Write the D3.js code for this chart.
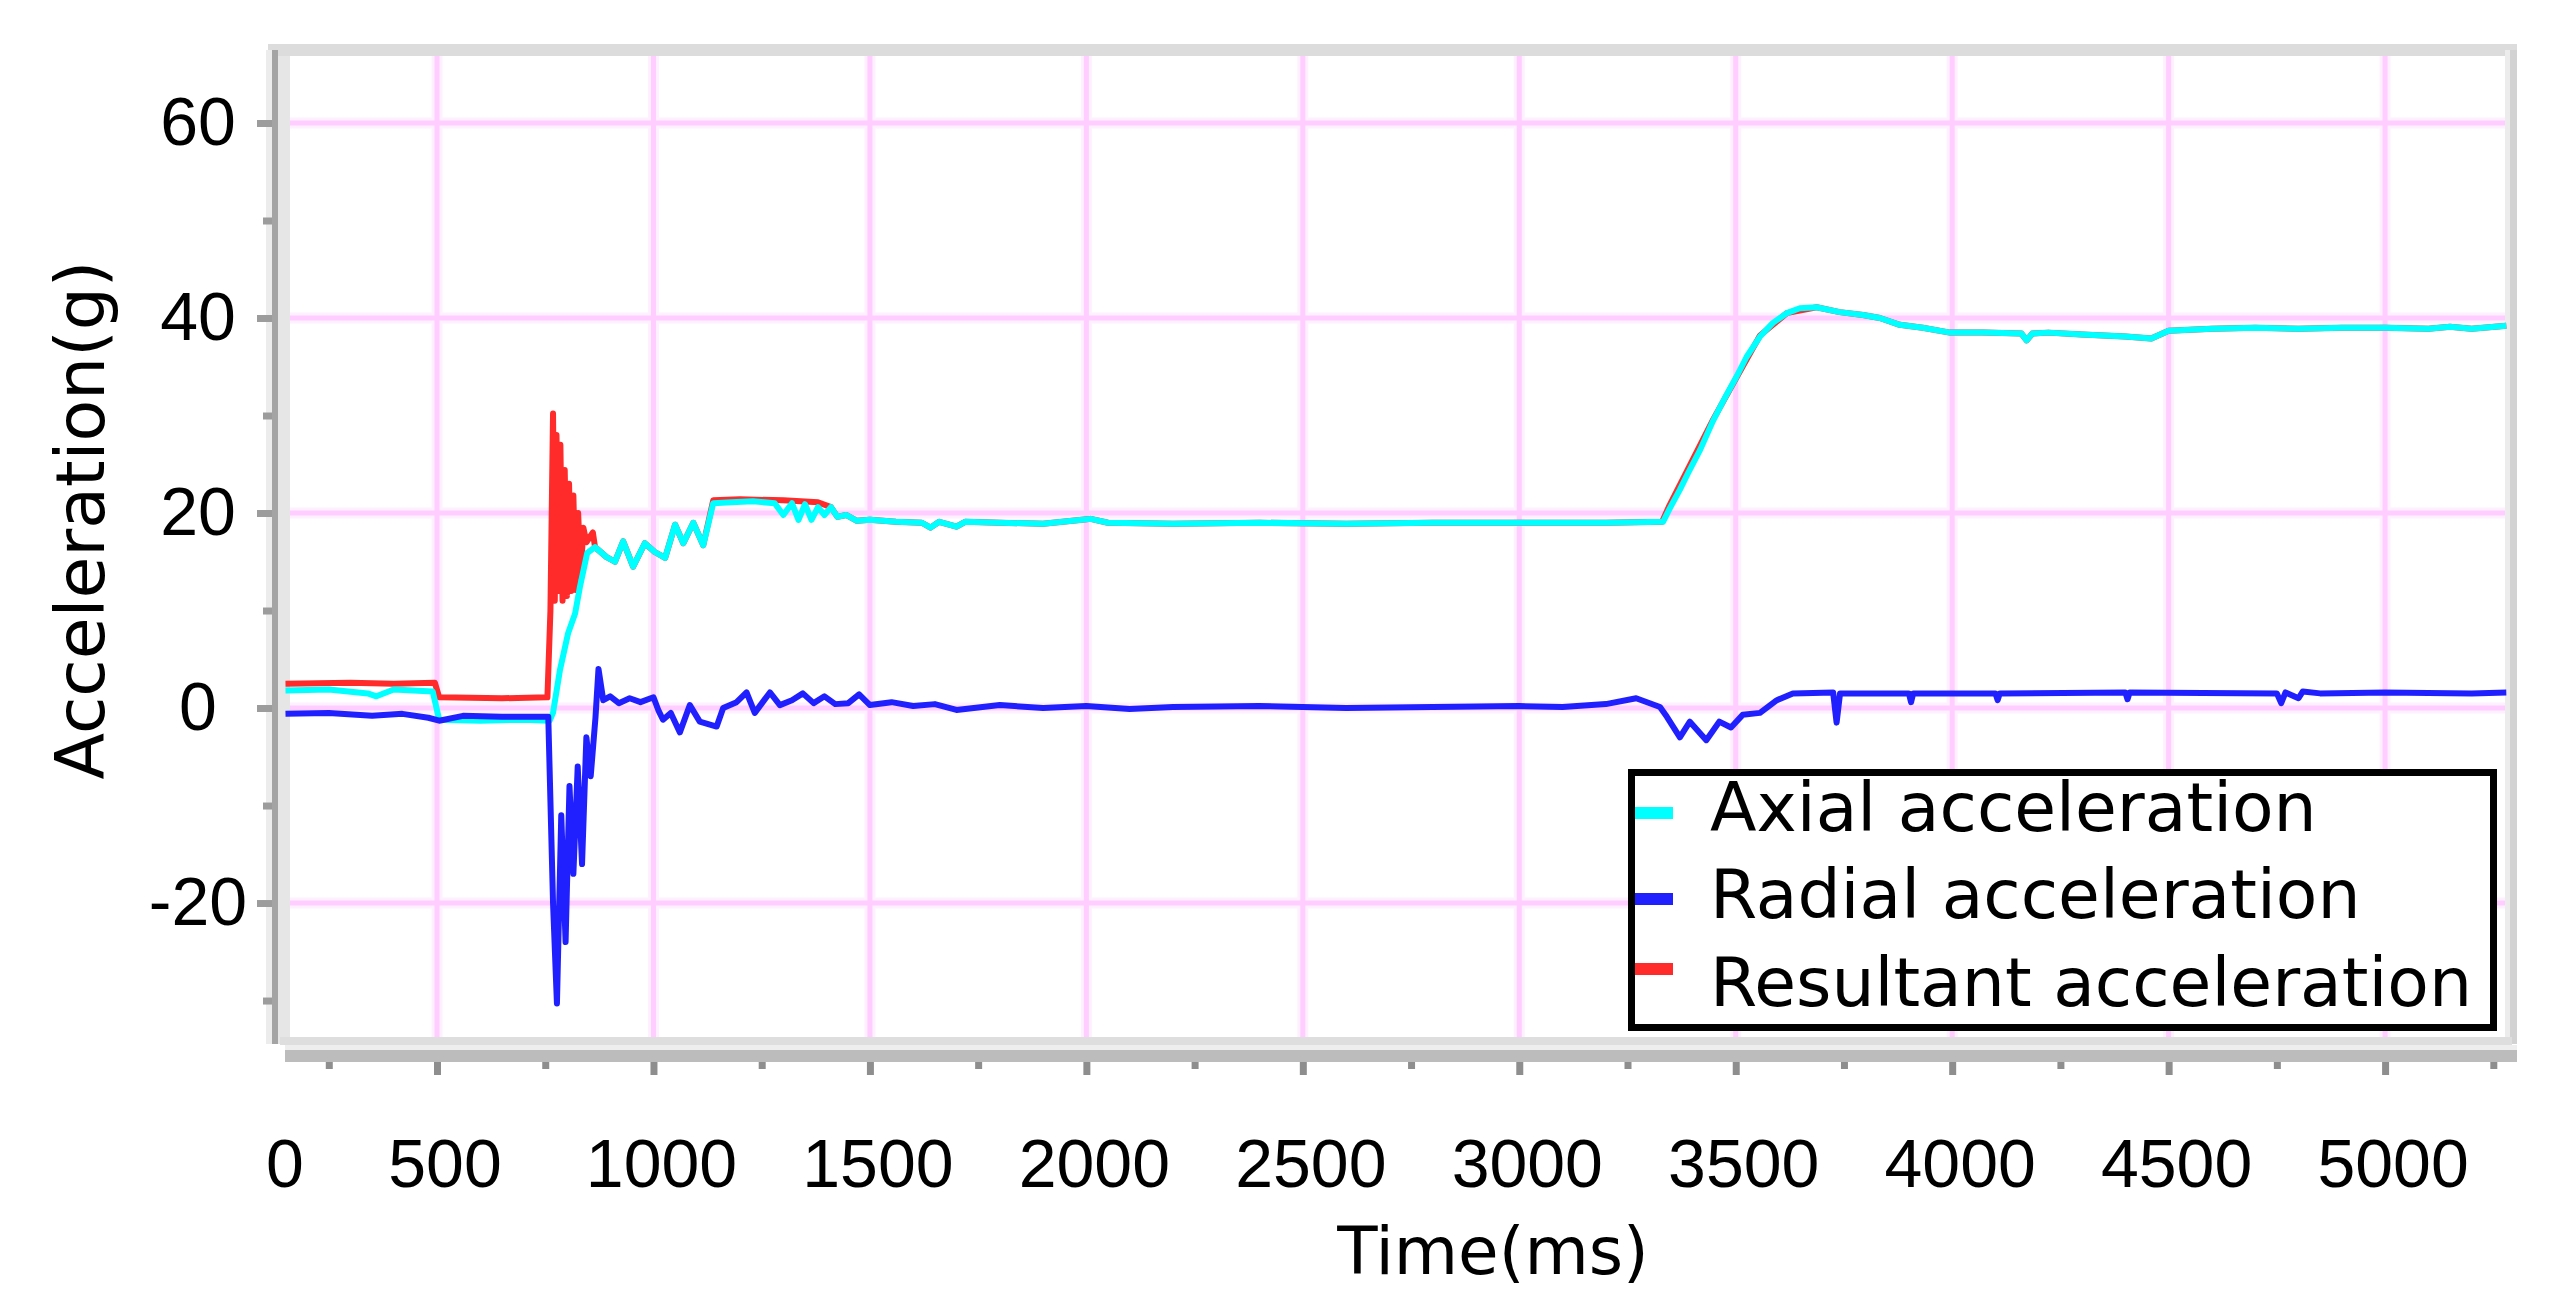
<!DOCTYPE html>
<html>
<head>
<meta charset="utf-8">
<script src="https://cdn.jsdelivr.net/npm/d3@7"></script>
<style>
body { margin: 0; background: #fff; }
</style>
</head>
<body>
<div id="chart"></div>
<script>
const width = 2575;
const height = 1314;

// [time ms, acceleration g]
const axial = [
    [150,1.8],[250,1.9],[340,1.5],[360,1.2],[400,1.9],[490,1.7],[505,-1.2],[600,-1.3],[700,-1.2],[760,-1.3],
    [768,-0.5],[784,3.9],[803,7.7],[819,9.7],[830,12.4],[847,15.9],[865,16.5],[891,15.5],[911,15.0],
    [930,17.1],[953,14.5],[980,16.9],[1003,16.0],[1027,15.4],[1050,18.8],[1069,16.9],[1092,19.0],
    [1115,16.7],[1138,21.0],[1180,21.1],[1230,21.2],[1280,21.0],[1300,19.8],[1320,21.0],[1335,19.3],
    [1350,20.9],[1365,19.3],[1380,20.6],[1395,19.8],[1410,20.6],[1425,19.6],[1445,19.8],[1470,19.2],
    [1500,19.3],[1560,19.1],[1620,19.0],[1640,18.5],[1660,19.1],[1700,18.6],[1720,19.1],[1800,19.0],
    [1900,18.9],[1990,19.3],[2010,19.4],[2050,19.0],[2200,18.9],[2400,19.0],[2600,18.9],[2800,19.0],
    [3000,19.0],[3200,19.0],[3332,19.1],[3348,20.5],[3371,22.4],[3390,24.1],[3418,26.5],[3448,29.5],
    [3475,31.8],[3502,34.0],[3525,36.0],[3556,38.1],[3586,39.5],[3618,40.5],[3648,41.0],[3687,41.1],
    [3740,40.6],[3794,40.3],[3833,40.0],[3879,39.3],[3932,39.0],[3995,38.5],[4071,38.5],[4160,38.4],
    [4172,37.7],[4185,38.4],[4222,38.5],[4300,38.3],[4400,38.1],[4460,37.9],[4500,38.7],[4600,38.9],
    [4700,39.0],[4800,38.9],[4900,39.0],[5000,39.0],[5100,38.9],[5150,39.1],[5200,38.9],[5280,39.2]
];

const radial = [
    [150,-0.6],[250,-0.5],[350,-0.8],[420,-0.6],[480,-1.0],[505,-1.3],[560,-0.8],[650,-0.9],[757,-0.9],
    [768,-20],[777,-30.3],[787,-11],[797,-24],[806,-8],[815,-17],[825,-6],[835,-16],[845,-3],[855,-7],
    [866,-1],[873,4.0],[884,0.8],[900,1.2],[920,0.5],[945,1.0],[970,0.6],[1000,1.1],[1012,-0.3],
    [1022,-1.2],[1040,-0.5],[1061,-2.5],[1084,0.3],[1107,-1.4],[1146,-1.9],[1161,0],[1192,0.6],
    [1215,1.6],[1234,-0.5],[1269,1.6],[1292,0.3],[1320,0.8],[1345,1.5],[1370,0.5],[1395,1.2],
    [1420,0.4],[1450,0.5],[1475,1.4],[1500,0.3],[1550,0.6],[1600,0.2],[1650,0.4],[1700,-0.2],
    [1800,0.3],[1900,0],[2000,0.2],[2100,-0.1],[2200,0.1],[2400,0.2],[2600,0],[2800,0.1],[3000,0.2],
    [3100,0.1],[3200,0.4],[3270,1.0],[3325,0.1],[3341,-0.9],[3371,-3.0],[3394,-1.4],[3432,-3.3],
    [3462,-1.4],[3489,-2.0],[3516,-0.7],[3556,-0.5],[3595,0.8],[3632,1.5],[3725,1.6],[3733,-1.5],
    [3741,1.5],[3900,1.5],[3905,0.6],[3910,1.5],[4100,1.5],[4105,0.8],[4110,1.5],[4400,1.6],
    [4405,0.9],[4410,1.6],[4750,1.5],[4760,0.5],[4770,1.6],[4800,1.0],[4810,1.7],[4850,1.5],
    [5000,1.6],[5200,1.5],[5280,1.6]
];

const resultant = [
    [150,2.5],[300,2.6],[400,2.5],[495,2.6],[505,1.1],[650,1.0],[755,1.1],[762,10],[768,30.2],
    [772,11],[776,28],[781,12],[785,27],[790,11],[795,24.4],[800,11.5],[805,23],[810,12],[815,21.8],
    [820,12.1],[826,20],[832,13.5],[838,18.5],[845,17.0],[860,18],[865,16.5],[891,15.5],[911,15.0],
    [930,17.1],[953,14.5],[980,16.9],[1003,16.0],[1027,15.4],[1050,18.8],[1069,16.9],[1092,19.0],
    [1115,16.7],[1138,21.3],[1200,21.4],[1300,21.3],[1380,21.1],[1410,20.6],[1425,19.6],[1445,19.8],
    [1470,19.2],[1500,19.3],[1560,19.1],[1620,19.0],[1640,18.5],[1660,19.1],[1700,18.6],[1720,19.1],
    [1800,19.0],[1900,18.9],[1990,19.3],[2010,19.4],[2050,19.0],[2200,18.9],[2400,19.0],[2600,18.9],
    [2800,19.0],[3000,19.0],[3200,19.0],[3330,19.1],[3345,20.6],[3448,29.6],[3556,38.2],[3618,40.5],
    [3687,41.1],[3740,40.6],[3794,40.3],[3833,40.0],[3879,39.3],[3932,39.0],[3995,38.5],[4071,38.5],
    [4160,38.4],[4172,37.7],[4185,38.4],[4222,38.5],[4300,38.3],[4400,38.1],[4460,37.9],[4500,38.7],
    [4600,38.9],[4700,39.0],[4800,38.9],[4900,39.0],[5000,39.0],[5100,38.9],[5150,39.1],[5200,38.9],
    [5280,39.2]
];

const seriesNames = ["Axial acceleration", "Radial acceleration", "Resultant acceleration"];
const seriesColors = ["#00ffff", "#2020ff", "#ff2a2a"];

const xTickValues = [150, 500, 1000, 1500, 2000, 2500, 3000, 3500, 4000, 4500, 5000];
const xTickLabels = ["0", "500", "1000", "1500", "2000", "2500", "3000", "3500", "4000", "4500", "5000"];
const xMinorTicks = [250, 750, 1250, 1750, 2250, 2750, 3250, 3750, 4250, 4750, 5250];
const yTickValues = [-20, 0, 20, 40, 60];
const yMinorTicks = [-30, -10, 10, 30, 50];

const x = d3.scaleLinear().domain([150, 5280]).range([285.5, 2506.3]);
const y = d3.scaleLinear().domain([-33.74, 66.87]).range([1037, 56]);

const svg = d3.select("#chart")
    .append("svg")
    .attr("width", width)
    .attr("height", height);

// plot frame
svg.append("rect").attr("x", 268).attr("y", 44).attr("width", 2249).attr("height", 12).attr("fill", "#dcdcdc");
svg.append("rect").attr("x", 278).attr("y", 56).attr("width", 12).attr("height", 988).attr("fill", "#e6e6e6");
svg.append("rect").attr("x", 266).attr("y", 50).attr("width", 6).attr("height", 994).attr("fill", "#ececec");
svg.append("rect").attr("x", 272).attr("y", 50).attr("width", 6).attr("height", 994).attr("fill", "#a4a4a4");
svg.append("rect").attr("x", 2505).attr("y", 50).attr("width", 5).attr("height", 994).attr("fill", "#ececec");
svg.append("rect").attr("x", 2510).attr("y", 50).attr("width", 7).attr("height", 994).attr("fill", "#d2d2d2");
svg.append("rect").attr("x", 280).attr("y", 1037).attr("width", 2232).attr("height", 8).attr("fill", "#dedede");
svg.append("rect").attr("x", 285).attr("y", 1045).attr("width", 2232).attr("height", 5).attr("fill", "#eeeeee");
svg.append("rect").attr("x", 285).attr("y", 1050).attr("width", 2232).attr("height", 12).attr("fill", "#bcbcbc");

// grid
const grid = svg.append("g");
[["#fff0ff", 11], ["#ffcdff", 5]].forEach(([c, w]) => {
    grid.selectAll(null)
        .data(xTickValues.slice(1))
        .enter()
        .append("line")
        .attr("x1", d => x(d)).attr("x2", d => x(d))
        .attr("y1", 56).attr("y2", 1037)
        .attr("stroke", c).attr("stroke-width", w);
    grid.selectAll(null)
        .data(yTickValues)
        .enter()
        .append("line")
        .attr("x1", 290).attr("x2", 2505)
        .attr("y1", d => y(d)).attr("y2", d => y(d))
        .attr("stroke", c).attr("stroke-width", w);
});

// tick marks
function styleTicks(g, color) {
    g.select(".domain").remove();
    g.selectAll(".tick line").attr("stroke", color).attr("stroke-width", 7);
    g.selectAll(".tick text").remove();
}
svg.append("g").attr("transform", "translate(272,0)")
    .call(d3.axisLeft(y).tickValues(yTickValues).tickSize(15))
    .call(g => styleTicks(g, "#9c9c9c"));
svg.append("g").attr("transform", "translate(272,0)")
    .call(d3.axisLeft(y).tickValues(yMinorTicks).tickSize(9))
    .call(g => styleTicks(g, "#9c9c9c"));
svg.append("g").attr("transform", "translate(0,1062)")
    .call(d3.axisBottom(x).tickValues(xTickValues.slice(1)).tickSize(13))
    .call(g => styleTicks(g, "#8e8e8e"));
svg.append("g").attr("transform", "translate(0,1062)")
    .call(d3.axisBottom(x).tickValues(xMinorTicks).tickSize(7))
    .call(g => styleTicks(g, "#8e8e8e"));

// tick labels
svg.append("g")
    .selectAll("text")
    .data(yTickValues)
    .enter()
    .append("text")
    .attr("x", 198)
    .attr("y", d => y(d) + 22)
    .attr("text-anchor", "middle")
    .attr("font-family", "Liberation Sans, Arial, sans-serif")
    .attr("font-size", 68)
    .attr("fill", "#000")
    .text(d => d);

svg.append("g")
    .selectAll("text")
    .data(xTickValues)
    .enter()
    .append("text")
    .attr("x", (d, i) => i === 0 ? 285 : x(d) + 8)
    .attr("y", 1187)
    .attr("text-anchor", "middle")
    .attr("font-family", "Liberation Sans, Arial, sans-serif")
    .attr("font-size", 68)
    .attr("fill", "#000")
    .text((d, i) => xTickLabels[i]);

// axis titles
svg.append("text")
    .attr("x", 1493)
    .attr("y", 1274)
    .attr("text-anchor", "middle")
    .attr("font-family", "DejaVu Sans, sans-serif")
    .attr("font-size", 66)
    .attr("fill", "#000")
    .text("Time(ms)");

svg.append("text")
    .attr("transform", "translate(104,520) rotate(-90)")
    .attr("text-anchor", "middle")
    .attr("font-family", "DejaVu Sans, sans-serif")
    .attr("font-size", 68)
    .attr("fill", "#000")
    .text("Acceleration(g)");

// series
const line = d3.line()
    .x(d => x(d[0]))
    .y(d => y(d[1]));

[[resultant, 2], [axial, 0], [radial, 1]].forEach(([data, i]) => {
    svg.append("path")
        .datum(data)
        .attr("d", line)
        .attr("fill", "none")
        .attr("stroke", seriesColors[i])
        .attr("stroke-width", 6)
        .attr("stroke-linejoin", "round");
});

// legend
const legend = svg.append("g");
legend.append("rect")
    .attr("x", 1631.5).attr("y", 772.5)
    .attr("width", 862).attr("height", 255)
    .attr("fill", "#fff")
    .attr("stroke", "#000")
    .attr("stroke-width", 7);

const legendBaselines = [831, 918, 1006];
const legendSymbolDy = [-24, -25, -43];
seriesNames.forEach((name, i) => {
    legend.append("rect")
        .attr("x", 1635).attr("y", legendBaselines[i] + legendSymbolDy[i])
        .attr("width", 38).attr("height", 12)
        .attr("fill", seriesColors[i]);
    legend.append("text")
        .attr("x", 1710)
        .attr("y", legendBaselines[i])
        .attr("font-family", "DejaVu Sans, sans-serif")
        .attr("font-size", 68)
        .attr("fill", "#000")
        .text(name);
});
</script>
</body>
</html>
